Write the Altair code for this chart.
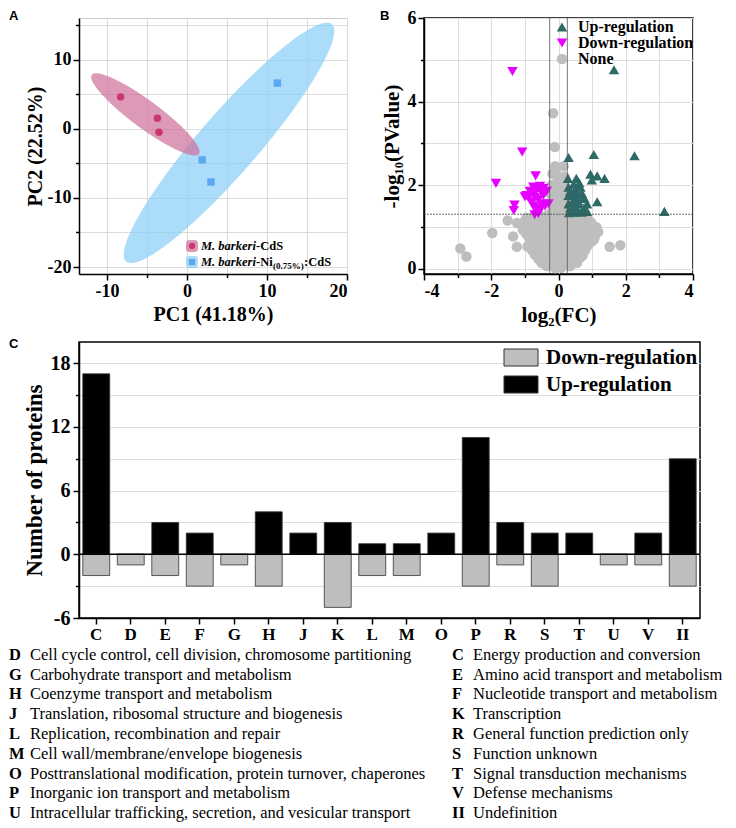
import numpy as np
import pandas as pd
import altair as alt

SERIF = "Liberation Serif"
SANS = "Liberation Sans"

# ---------------- Panel A : PCA ----------------
groups = ["M. barkeri-CdS", "M. barkeri-Ni(0.75%):CdS"]
pca_group = [groups[0]] * 3 + [groups[1]] * 3
pc1 = [-8.3, -3.7, -3.5, 1.9, 3.0, 11.3]
pc2 = [4.6, 1.5, -0.5, -4.5, -7.7, 6.6]
point_colors = ["#C8376E", "#5AA8F0"]
ellipse_colors = ["#CF6F9A", "#87CEFA"]
# confidence ellipses: centre, half major-axis vector, half minor-axis vector (data units)
ell_cx = [-5.2, 5.25]
ell_cy = [2.07, -2.05]
ell_major = [(6.7, -5.73), (12.85, 17.15)]
ell_minor = [(-1.05, -1.59), (2.85, -2.75)]


def ellipse_band(cx, cy, major, minor, n=160):
    m = np.array([[major[0], minor[0]], [major[1], minor[1]]])
    mi = np.linalg.inv(m)
    qa = mi[0, 1] ** 2 + mi[1, 1] ** 2
    half = np.sqrt(major[0] ** 2 + minor[0] ** 2)
    dx = half * np.cos(np.linspace(np.pi, 0, n))
    qb = 2 * (mi[0, 0] * mi[0, 1] + mi[1, 0] * mi[1, 1]) * dx
    qc = (mi[0, 0] ** 2 + mi[1, 0] ** 2) * dx ** 2 - 1
    disc = np.clip(qb ** 2 - 4 * qa * qc, 0, None)
    lo = (-qb - np.sqrt(disc)) / (2 * qa)
    hi = (-qb + np.sqrt(disc)) / (2 * qa)
    return cx + dx, cy + lo, cy + hi


ell_frames = []
for i, g in enumerate(groups):
    ex, elo, ehi = ellipse_band(ell_cx[i], ell_cy[i], ell_major[i], ell_minor[i])
    ell_frames.append(pd.DataFrame({"group": g, "x": ex, "ylo": elo, "yhi": ehi}))

pca_df = pd.DataFrame({"group": pca_group, "pc1": pc1, "pc2": pc2})

# ---------------- Panel B : volcano ----------------
up_pts = [(1.65, 4.76), (0.30, 2.66), (1.05, 2.73), (2.26, 2.70), (3.15, 1.37), (0.95, 2.26),
          (1.15, 2.22), (1.37, 2.16), (0.99, 2.12), (0.28, 2.16), (0.53, 2.16), (1.15, 1.60),
          (0.77, 1.68), (0.85, 1.37), (0.30, 1.95), (0.35, 1.85), (0.40, 1.75), (0.45, 1.65),
          (0.30, 1.55), (0.35, 1.45), (0.40, 1.36), (0.50, 1.90), (0.55, 1.80), (0.60, 1.70),
          (0.65, 1.95), (0.50, 1.50), (0.55, 1.40), (0.60, 1.55), (0.70, 1.80), (0.75, 1.45),
          (0.45, 2.02), (0.32, 1.34), (0.68, 1.35), (0.62, 2.05), (0.40, 1.55), (0.58, 1.62),
          (0.30, 1.75), (0.45, 1.35), (0.85, 1.55)]
down_pts = [(-1.37, 4.72), (-1.08, 2.79), (-1.86, 2.04), (-0.68, 2.22), (-1.31, 1.52),
            (-1.33, 1.39), (-0.71, 1.29), (-0.95, 1.75), (-0.85, 1.85), (-0.75, 1.95),
            (-0.65, 1.90), (-0.55, 1.97), (-0.45, 1.92), (-0.35, 1.85), (-0.70, 1.70),
            (-0.60, 1.65), (-0.80, 1.60), (-0.50, 1.55), (-0.40, 1.50), (-0.30, 1.55),
            (-0.65, 1.45), (-0.55, 1.40), (-0.90, 1.70), (-0.75, 1.50), (-0.60, 1.32),
            (-0.45, 1.75), (-1.00, 1.72), (-0.72, 1.80), (-0.50, 1.82)]
none_pts = [
    (-0.16, 3.72), (-0.11, 2.91), (-0.10, 2.45), (0.15, 2.45), (-0.18, 2.27),
    (-1.51, 1.15), (-1.23, 1.09), (-1.97, 0.85), (-1.35, 0.77), (-2.92, 0.48), (-2.74, 0.29),
    (-1.24, 0.52), (0.69, 1.18), (1.05, 0.69), (1.52, 0.52), (1.84, 0.56),
    (-0.05, 2.25), (0.10, 2.10), (-0.20, 2.00), (0.05, 1.90), (-0.10, 1.80), (0.15, 1.75),
    (0.20, 1.92), (-0.20, 1.62), (0.00, 1.60), (0.20, 1.50), (-0.10, 1.45), (0.10, 1.40),
    (-0.22, 1.35), (0.05, 1.33), (-0.05, 2.05), (0.18, 2.20), (-0.15, 1.95), (-0.25, 1.80),
    (0.22, 1.65),
    (-0.95, 1.22), (-0.72, 1.27), (-0.50, 1.24), (-0.33, 1.28), (-0.15, 1.21), (0.02, 1.26),
    (0.17, 1.23), (0.36, 1.27), (0.52, 1.22), (0.66, 1.25), (0.86, 1.20),
    (-1.02, 1.12), (-0.80, 1.17), (-0.61, 1.14), (-0.43, 1.18), (-0.26, 1.13), (-0.08, 1.16),
    (0.09, 1.12), (0.26, 1.17), (0.43, 1.14), (0.61, 1.10), (0.79, 1.15), (0.96, 1.11),
    (-0.90, 1.03), (-0.73, 1.07), (-0.55, 1.02), (-0.37, 1.06), (-0.21, 1.04), (-0.03, 1.08),
    (0.13, 1.03), (0.31, 1.06), (0.48, 1.01), (0.67, 1.05), (0.84, 1.02), (1.02, 1.04),
    (1.13, 0.99),
    (-1.06, 0.93), (-0.86, 0.97), (-0.66, 0.94), (-0.48, 0.96), (-0.31, 0.92), (-0.12, 0.97),
    (0.05, 0.93), (0.22, 0.96), (0.40, 0.92), (0.58, 0.97), (0.76, 0.94), (0.94, 0.91),
    (1.10, 0.95),
    (-0.96, 0.83), (-0.78, 0.87), (-0.60, 0.84), (-0.42, 0.86), (-0.24, 0.82), (-0.07, 0.87),
    (0.11, 0.83), (0.28, 0.86), (0.46, 0.82), (0.64, 0.87), (0.82, 0.84), (1.00, 0.86),
    (1.18, 0.88),
    (-0.88, 0.73), (-0.70, 0.77), (-0.52, 0.74), (-0.35, 0.76), (-0.18, 0.72), (0.01, 0.77),
    (0.18, 0.73), (0.36, 0.76), (0.54, 0.72), (0.72, 0.77), (0.90, 0.74), (1.08, 0.76),
    (-0.80, 0.63), (-0.62, 0.67), (-0.45, 0.64), (-0.28, 0.66), (-0.10, 0.62), (0.08, 0.67),
    (0.26, 0.63), (0.44, 0.66), (0.62, 0.62), (0.80, 0.67), (0.98, 0.64),
    (-0.92, 0.53), (-0.72, 0.57), (-0.55, 0.54), (-0.38, 0.56), (-0.20, 0.52), (-0.02, 0.57),
    (0.16, 0.53), (0.34, 0.56), (0.52, 0.52), (0.70, 0.57), (0.86, 0.54),
    (-0.78, 0.43), (-0.60, 0.47), (-0.42, 0.44), (-0.25, 0.46), (-0.08, 0.42), (0.10, 0.47),
    (0.28, 0.43), (0.46, 0.46), (0.64, 0.42), (0.80, 0.45),
    (-0.70, 0.33), (-0.52, 0.37), (-0.35, 0.34), (-0.18, 0.36), (0.00, 0.32), (0.18, 0.37),
    (0.36, 0.33), (0.54, 0.36), (0.72, 0.32),
    (-0.60, 0.23), (-0.42, 0.27), (-0.25, 0.24), (-0.08, 0.26), (0.10, 0.22), (0.28, 0.27),
    (0.46, 0.23), (0.64, 0.26),
    (-0.50, 0.13), (-0.32, 0.17), (-0.15, 0.14), (0.02, 0.16), (0.20, 0.12), (0.38, 0.17),
    (0.55, 0.14),
    (-0.35, 0.06), (-0.18, 0.09), (0.00, 0.05), (0.18, 0.08), (0.35, 0.06),
    (-0.10, 0.01), (0.08, 0.02)]
reg_names = ["Up-regulation", "Down-regulation", "None"]
reg_colors = ["#2D6A67", "#E600FF", "#BEBEBE"]
reg_shapes = ["triangle-up", "triangle-down", "circle"]
reg_sizes = [110, 110, 55]
fc_cut = [-0.263, 0.263]
p_cut = [1.301]

vol_rows = ([("None", x, y) for x, y in none_pts] + [("Down-regulation", x, y) for x, y in down_pts]
            + [("Up-regulation", x, y) for x, y in up_pts])
vol_df = pd.DataFrame(vol_rows, columns=["reg", "fc", "p"])

# ---------------- Panel C : COG bars ----------------
cog = ["C", "D", "E", "F", "G", "H", "J", "K", "L", "M", "O", "P", "R", "S", "T", "U", "V", "II"]
up_counts = [17, 0, 3, 2, 0, 4, 2, 3, 1, 1, 2, 11, 3, 2, 2, 0, 2, 9]
down_counts = [-2, -1, -2, -3, -1, -3, 0, -5, -2, -2, 0, -3, -1, -3, 0, -1, -1, -3]
bar_series = ["Down-regulation", "Up-regulation"]
bar_colors = ["#BEBEBE", "#000000"]
bar_df = pd.DataFrame({
    "cat": cog * 2,
    "series": [bar_series[1]] * len(cog) + [bar_series[0]] * len(cog),
    "value": up_counts + down_counts,
})

left_codes = ["D", "G", "H", "J", "L", "M", "O", "P", "U"]
left_desc = ["Cell cycle control, cell division, chromosome partitioning",
             "Carbohydrate transport and metabolism",
             "Coenzyme transport and metabolism",
             "Translation, ribosomal structure and biogenesis",
             "Replication, recombination and repair",
             "Cell wall/membrane/envelope biogenesis",
             "Posttranslational modification, protein turnover, chaperones",
             "Inorganic ion transport and metabolism",
             "Intracellular trafficking, secretion, and vesicular transport"]
right_codes = ["C", "E", "F", "K", "R", "S", "T", "V", "II"]
right_desc = ["Energy production and conversion",
              "Amino acid transport and metabolism",
              "Nucleotide transport and metabolism",
              "Transcription",
              "General function prediction only",
              "Function unknown",
              "Signal transduction mechanisms",
              "Defense mechanisms",
              "Undefinition"]
desc_df = pd.DataFrame({
    "code": left_codes + right_codes,
    "desc": left_desc + right_desc,
    "col": [0] * 9 + [1] * 9,
    "row": list(range(9)) * 2,
})

one = pd.DataFrame({"k": [0]})


def tick_size(mod):
    return {"condition": {"test": f"datum.value % {mod} === 0", "value": 6}, "value": 3.5}


def lab_expr(mod):
    return f"datum.value % {mod} === 0 ? '' + datum.value : ''"


def letter(txt, x, y):
    return alt.Chart(one).mark_text(text=txt, font=SANS, fontWeight="bold", fontSize=13,
                                    align="left", baseline="top", color="black").encode(
        x=alt.value(x), y=alt.value(y))


# ---- Panel A chart ----
ax_a_x = alt.Axis(values=[-10, -5, 0, 5, 10, 15, 20], labelExpr=lab_expr(10), tickSize=tick_size(10),
                  grid=True, gridColor="#DCDCDC", gridWidth=1, labelFontSize=18, titleFontSize=20,
                  title="PC1 (41.18%)", labelPadding=2, titlePadding=4)
ax_a_y = alt.Axis(values=[-20, -15, -10, -5, 0, 5, 10, 15], labelExpr=lab_expr(10),
                  tickSize=tick_size(10), grid=True, gridColor="#DCDCDC", gridWidth=1,
                  labelFontSize=18, titleFontSize=20, title="PC2 (22.52%)", labelPadding=2,
                  titlePadding=2)
sx_a = alt.Scale(domain=[-13.5, 20], nice=False, zero=False)
sy_a = alt.Scale(domain=[-21, 16], nice=False, zero=False)

ell_layers = []
for g in groups[::-1]:
    idx = groups.index(g)
    ell_layers.append(
        alt.Chart(ell_frames[idx]).mark_area(color=ellipse_colors[idx], opacity=0.7).encode(
            x=alt.X("x:Q", scale=sx_a, axis=ax_a_x),
            y=alt.Y("ylo:Q", scale=sy_a, axis=ax_a_y),
            y2="yhi:Q"))

pts_a = alt.Chart(pca_df).mark_point(filled=True, opacity=1, size=55).encode(
    x=alt.X("pc1:Q", scale=sx_a, axis=ax_a_x),
    y=alt.Y("pc2:Q", scale=sy_a, axis=ax_a_y),
    color=alt.Color("group:N", scale=alt.Scale(domain=groups, range=point_colors), legend=None),
    shape=alt.Shape("group:N", scale=alt.Scale(domain=groups, range=["circle", "square"]), legend=None))

leg_a = []
leg_rows_y = [228, 244]
for i in range(2):
    yy = leg_rows_y[i]
    leg_a.append(alt.Chart(one).mark_rect(color=ellipse_colors[i], opacity=0.7, cornerRadius=3).encode(
        x=alt.value(107), x2=alt.value(119), y=alt.value(yy - 6), y2=alt.value(yy + 6)))
    leg_a.append(alt.Chart(one).mark_point(filled=True, opacity=1, size=40, color=point_colors[i],
                                           shape=["circle", "square"][i]).encode(
        x=alt.value(113), y=alt.value(yy)))
    leg_a.append(alt.Chart(one).mark_text(text="M. barkeri", font=SERIF, fontStyle="italic",
                                          fontWeight="bold", fontSize=12.5, align="left",
                                          baseline="middle", color="black").encode(
        x=alt.value(122), y=alt.value(yy)))
leg_a.append(alt.Chart(one).mark_text(text="-CdS", font=SERIF, fontWeight="bold", fontSize=12.5,
                                      align="left", baseline="middle", color="black").encode(
    x=alt.value(177), y=alt.value(leg_rows_y[0])))
leg_a.append(alt.Chart(one).mark_text(text="-Ni", font=SERIF, fontWeight="bold", fontSize=12.5,
                                      align="left", baseline="middle", color="black").encode(
    x=alt.value(177), y=alt.value(leg_rows_y[1])))
leg_a.append(alt.Chart(one).mark_text(text="(0.75%)", font=SERIF, fontWeight="bold", fontSize=9,
                                      align="left", baseline="middle", color="black").encode(
    x=alt.value(194), y=alt.value(leg_rows_y[1] + 4)))
leg_a.append(alt.Chart(one).mark_text(text=":CdS", font=SERIF, fontWeight="bold", fontSize=12.5,
                                      align="left", baseline="middle", color="black").encode(
    x=alt.value(225), y=alt.value(leg_rows_y[1])))

panel_a = alt.layer(*ell_layers, pts_a, *leg_a, letter("A", -70, -8)).properties(
    width=268, height=256, view=alt.ViewBackground(stroke="#CCCCCC", strokeWidth=1))

# ---- Panel B chart ----
ax_b_x = alt.Axis(values=list(range(-4, 5)), labelExpr=lab_expr(2), tickSize=tick_size(2),
                  labelFontSize=18, titleFontSize=21, title="log\u2082(FC)", labelPadding=2,
                  titlePadding=4)
ax_b_y = alt.Axis(values=list(range(0, 7)), labelExpr=lab_expr(2), tickSize=tick_size(2),
                  labelFontSize=18, titleFontSize=21, title="-log\u2081\u2080(PValue)",
                  labelPadding=2, titlePadding=5)
sx_b = alt.Scale(domain=[-4, 4], nice=False, zero=False)
sy_b = alt.Scale(domain=[-0.13, 6], nice=False, zero=False)

pts_b = alt.Chart(vol_df).mark_point(filled=True, opacity=1).encode(
    x=alt.X("fc:Q", scale=sx_b, axis=ax_b_x),
    y=alt.Y("p:Q", scale=sy_b, axis=ax_b_y),
    color=alt.Color("reg:N", scale=alt.Scale(domain=reg_names, range=reg_colors),
                    legend=alt.Legend(orient="none", legendX=130, legendY=1, title=None,
                                      labelFont=SERIF, labelFontWeight="bold", labelFontSize=16,
                                      labelColor="black", symbolSize=100, rowPadding=0,
                                      labelOffset=8, symbolStrokeWidth=0)),
    shape=alt.Shape("reg:N", scale=alt.Scale(domain=reg_names, range=reg_shapes)),
    size=alt.Size("reg:N", scale=alt.Scale(domain=reg_names, range=reg_sizes), legend=None),
)
vrules = alt.Chart(pd.DataFrame({"fc": fc_cut})).mark_rule(color="#555555", strokeWidth=0.8).encode(
    x=alt.X("fc:Q", scale=sx_b, axis=ax_b_x))
hrule = alt.Chart(pd.DataFrame({"p": p_cut})).mark_rule(color="#444444", strokeWidth=0.8,
                                                        strokeDash=[2, 1]).encode(
    y=alt.Y("p:Q", scale=sy_b, axis=ax_b_y))

panel_b = alt.layer(pts_b, vrules, hrule, letter("B", -44, -8)).properties(
    width=269, height=256, view=alt.ViewBackground(stroke="black", strokeWidth=1.5))

# ---- Panel C chart ----
ax_c_y = alt.Axis(values=[-6, -3, 0, 3, 6, 9, 12, 15, 18], labelExpr=lab_expr(6), tickSize=tick_size(6),
                  labelFontSize=20, titleFontSize=23, title="Number of proteins", labelPadding=3,
                  titlePadding=4)
ax_c_x = alt.Axis(labelAngle=0, labelFontSize=17, tickSize=6, labelPadding=2, title=None)
bars = alt.Chart(bar_df).mark_bar(stroke="#333333", strokeWidth=0.8).encode(
    x=alt.X("cat:N", sort=cog, scale=alt.Scale(paddingInner=0.22, paddingOuter=0.11), axis=ax_c_x),
    y=alt.Y("value:Q", stack=None, scale=alt.Scale(domain=[-6, 20], nice=False), axis=ax_c_y),
    color=alt.Color("series:N", scale=alt.Scale(domain=bar_series, range=bar_colors),
                    legend=alt.Legend(orient="none", legendX=431.5, legendY=5, title=None,
                                      labelFont=SERIF, labelFontWeight="bold", labelFontSize=21,
                                      labelColor="black", symbolType="M-2,-1H2V1H-2Z",
                                      symbolSize=289, symbolStrokeColor="#333333",
                                      symbolStrokeWidth=1, symbolOpacity=1, rowPadding=5,
                                      labelOffset=14.5)),
)
zero_rule = alt.Chart(pd.DataFrame({"z": [0]})).mark_rule(color="black", strokeWidth=1.5).encode(
    y=alt.Y("z:Q", scale=alt.Scale(domain=[-6, 20], nice=False), axis=ax_c_y))
spacer_c = alt.Chart(one).mark_rule(color="white", opacity=0).encode(
    x=alt.value(0), y=alt.value(-13), y2=alt.value(-12))

panel_c = alt.layer(bars, zero_rule, spacer_c, letter("C", -70, -4)).properties(
    width=621, height=276, view=alt.ViewBackground(stroke="black", strokeWidth=1.5))

# ---- Category description text ----
tx = alt.X("col:Q", scale=alt.Scale(domain=[0, 1], range=[-70, 373]), axis=None)
ty = alt.Y("row:O", scale=alt.Scale(paddingInner=0, paddingOuter=0), axis=None)
codes_t = alt.Chart(desc_df).mark_text(align="left", baseline="middle", font=SERIF, fontWeight="bold",
                                       fontSize=16.5, color="black").encode(x=tx, y=ty, text="code:N")
desc_t = alt.Chart(desc_df).mark_text(align="left", baseline="middle", font=SERIF, fontSize=16.5,
                                      dx=21, color="black").encode(x=tx, y=ty, text="desc:N")
panel_t = alt.layer(codes_t, desc_t).properties(width=600, height=178)

indep = dict(color="independent", shape="independent", size="independent")
row1 = alt.hconcat(panel_a, panel_b, spacing=30).resolve_scale(**indep).resolve_legend(
    color="independent", shape="independent", size="independent")
chart = alt.vconcat(
    row1,
    alt.hconcat(panel_c),
    alt.hconcat(panel_t),
    spacing=2,
).resolve_scale(**indep).resolve_legend(
    color="independent", shape="independent", size="independent"
).properties(padding=0, background="white").configure_view(stroke=None).configure_axis(
    labelFont=SERIF, titleFont=SERIF, labelFontWeight="bold", titleFontWeight="bold",
    labelColor="black", titleColor="black", domainColor="black", tickColor="black",
    domainWidth=1.5, tickWidth=1.5,
)

chart.save("out.html", embed_options={"renderer": "svg", "actions": False})
